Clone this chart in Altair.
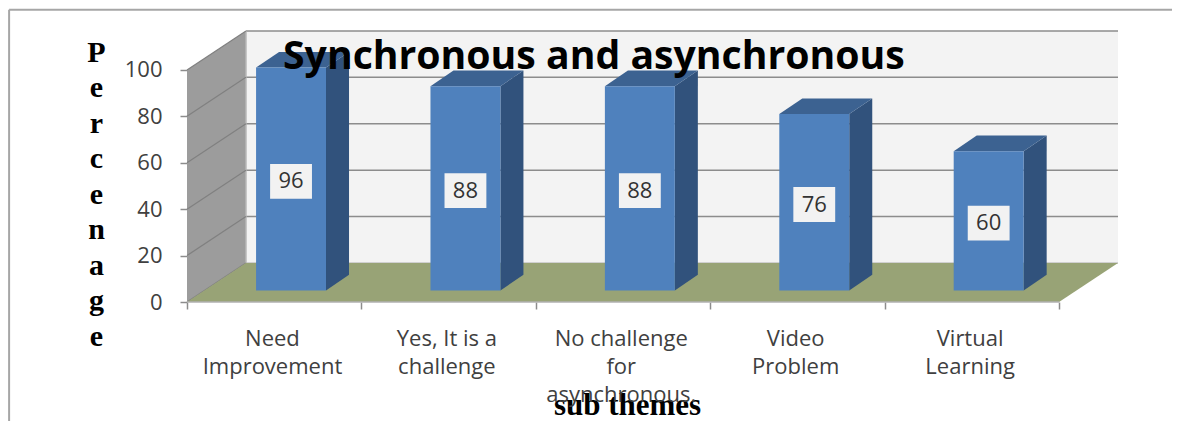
import altair as alt
import pandas as pd

categories = ["Need Improvement", "Yes, It is a challenge", "No challenge for asynchronous.", "Video Problem", "Virtual Learning"]
category_lines = [["Need", "Improvement"], ["Yes, It is a", "challenge"], ["No challenge", "for", "asynchronous."], ["Video", "Problem"], ["Virtual", "Learning"]]
values = [96, 88, 88, 76, 60]
y_ticks = [0, 20, 40, 60, 80, 100]
x_ticks = [0, 1, 2, 3, 4, 5]

# 3D projection helpers, in axis units
WALL_DX, WALL_DY = 0.338, 16.8
BAR_DX, BAR_DY = 0.132, 6.7
BAR_X0, BAR_W, BAR_BASE = 0.396, 0.401, 5.0
X_MAX, Y_MAX = 5.338, 117.2
FONT = "Open Sans"
SERIF = "Liberation Serif"

xs = alt.Scale(domain=[0, X_MAX], nice=False, zero=False)
ys = alt.Scale(domain=[0, Y_MAX], nice=False, zero=False)
X = lambda f, **k: alt.X(f, type="quantitative", scale=xs, **k)
Y = lambda f, **k: alt.Y(f, type="quantitative", scale=ys, **k)

# Back wall with the axes
wall = alt.Chart(pd.DataFrame({"x": [WALL_DX], "x2": [5 + WALL_DX], "y": [WALL_DY], "y2": [100 + WALL_DY]})).mark_rect(color="#f3f3f3").encode(
    x=alt.X("x:Q", scale=xs, axis=alt.Axis(
        values=x_ticks, labels=False, grid=False, domain=False, ticks=True, tickSize=7, tickColor="#8c8c8c", tickWidth=1.5,
        title="sub themes", titleFont=SERIF, titleFontSize=31, titleFontWeight="bold", titleColor="#000000",
        titleX=440, titleY=112, titleBaseline="alphabetic", titleAlign="center")),
    x2="x2:Q",
    y=alt.Y("y:Q", scale=ys, axis=alt.Axis(
        values=y_ticks, grid=False, domain=False, tickSize=7, tickColor="#8c8c8c", tickWidth=1.5,
        labelFont=FONT, labelFontSize=22, labelColor="#404040", labelPadding=18,
        title=list("Percenage"), titleAngle=0, titleFont=SERIF, titleFontSize=30, titleFontWeight="bold", titleColor="#000000",
        titleLineHeight=35.5, titleX=-91, titleY=31, titleBaseline="alphabetic", titleAlign="center")),
    y2="y2:Q",
)

grid_df = pd.DataFrame({"t": y_ticks, "y": [t + WALL_DY for t in y_ticks], "x": WALL_DX, "x2": 5 + WALL_DX})
grid = alt.Chart(grid_df[grid_df.t > 0]).mark_rule(color="#8c8c8c", strokeWidth=1.5).encode(x=X("x"), x2="x2:Q", y=Y("y"))
floor_back = alt.Chart(grid_df[grid_df.t == 0]).mark_rule(color="#c4c4c4", strokeWidth=1.5).encode(x=X("x"), x2="x2:Q", y=Y("y"))

side_wall = alt.Chart(pd.DataFrame({"x": [0, WALL_DX], "y": [0, WALL_DY], "y2": [100, 100 + WALL_DY]})).mark_area(color="#9c9c9c").encode(
    x=X("x"), y=Y("y"), y2="y2:Q")
wall_edge = alt.Chart(pd.DataFrame({"x": [WALL_DX], "y": [WALL_DY], "y2": [100 + WALL_DY]})).mark_rule(color="#b4b4b4", strokeWidth=1.5).encode(
    x=X("x"), y=Y("y"), y2="y2:Q")

side_df = pd.DataFrame([{"t": t, "x": dx, "y": t + dy} for t in y_ticks for dx, dy in [(0, 0), (WALL_DX, WALL_DY)]])
side_grid = alt.Chart(side_df).mark_line(color="#808080", strokeWidth=1.2).encode(x=X("x"), y=Y("y"), detail="t:N")

floor = alt.Chart(pd.DataFrame({"y": [0, WALL_DY], "x": [0, WALL_DX], "x2": [5, 5 + WALL_DX]})).mark_area(color="#98a376", orient="horizontal").encode(
    y=Y("y"), x=X("x"), x2="x2:Q")
front_edge = alt.Chart(pd.DataFrame({"x": [0], "x2": [5], "y": [0]})).mark_rule(color="#b0b0b0", strokeWidth=1.5).encode(x=X("x"), x2="x2:Q", y=Y("y"))

bars = pd.DataFrame({"cat": categories, "v": values, "i": range(5)})
bars["x0"] = bars.i + BAR_X0
bars["x1"] = bars.x0 + BAR_W
bars["top"] = bars.v + BAR_BASE
bars["base"] = BAR_BASE
bars["mid"] = bars.v / 2 + BAR_BASE - 1
bars["cx"] = (bars.x0 + bars.x1) / 2
bars["bx0"] = bars.cx - 0.12
bars["bx1"] = bars.cx + 0.12
bars["by0"] = bars.mid - 7.5
bars["by1"] = bars.mid + 7.5

front = alt.Chart(bars).mark_rect(color="#4f81bd").encode(x=X("x0"), x2="x1:Q", y=Y("base"), y2="top:Q")

side_rows, top_rows = [], []
for r in bars.itertuples():
    side_rows += [{"cat": r.cat, "x": r.x1, "y": r.base, "y2": r.top},
                  {"cat": r.cat, "x": r.x1 + BAR_DX, "y": r.base + BAR_DY, "y2": r.top + BAR_DY}]
    top_rows += [{"cat": r.cat, "y": r.top, "x": r.x0, "x2": r.x1},
                 {"cat": r.cat, "y": r.top + BAR_DY, "x": r.x0 + BAR_DX, "x2": r.x1 + BAR_DX}]
bar_side = alt.Chart(pd.DataFrame(side_rows)).mark_area(color="#31527c").encode(x=X("x"), y=Y("y"), y2="y2:Q", detail="cat:N")
bar_top = alt.Chart(pd.DataFrame(top_rows)).mark_area(color="#3c6291", orient="horizontal").encode(y=Y("y"), x=X("x"), x2="x2:Q", detail="cat:N")

box = alt.Chart(bars).mark_rect(color="#f2f2f2").encode(x=X("bx0"), x2="bx1:Q", y=Y("by0"), y2="by1:Q")
box_text = alt.Chart(bars).mark_text(font=FONT, fontSize=22, color="#333333").encode(x=X("cx"), y=Y("mid"), text="v:Q")

lab = pd.DataFrame({"lines": category_lines, "x": [i + 0.49 for i in range(5)], "y": -11.7})
cat_labels = alt.Chart(lab).mark_text(font=FONT, fontSize=22, color="#404040", baseline="top", lineHeight=28).encode(
    x=X("x"), y=Y("y"), text="lines:N")

# Outer frame of the picture
frame_top = alt.Chart(pd.DataFrame({"x": [-1.02], "x2": [5.70], "y": [125.9]})).mark_rule(color="#a6a6a6", strokeWidth=2).encode(x=X("x"), x2="x2:Q", y=Y("y"))
frame_left = alt.Chart(pd.DataFrame({"x": [-1.02], "y": [125.9], "y2": [-52.0]})).mark_rule(color="#a6a6a6", strokeWidth=2).encode(x=X("x"), y=Y("y"), y2="y2:Q")

chart = alt.layer(
    wall, grid, floor_back, side_wall, wall_edge, side_grid, floor, front_edge,
    bar_side, bar_top, front, box, box_text, cat_labels, frame_top, frame_left,
).properties(
    width=931, height=272,
    autosize=alt.AutoSizeParams(type="none"),
    padding={"left": 179, "top": 22, "right": 54, "bottom": 119},
    background="#ffffff",
    title=alt.TitleParams("Synchronous and asynchronous", font=FONT, fontSize=39.2, fontWeight="bold", color="#000000",
                          anchor="start", frame="group", baseline="alphabetic", dx=96, dy=103, zindex=1),
).configure_view(stroke=None)

chart.save("out.html", embed_options={"renderer": "svg", "actions": False})
